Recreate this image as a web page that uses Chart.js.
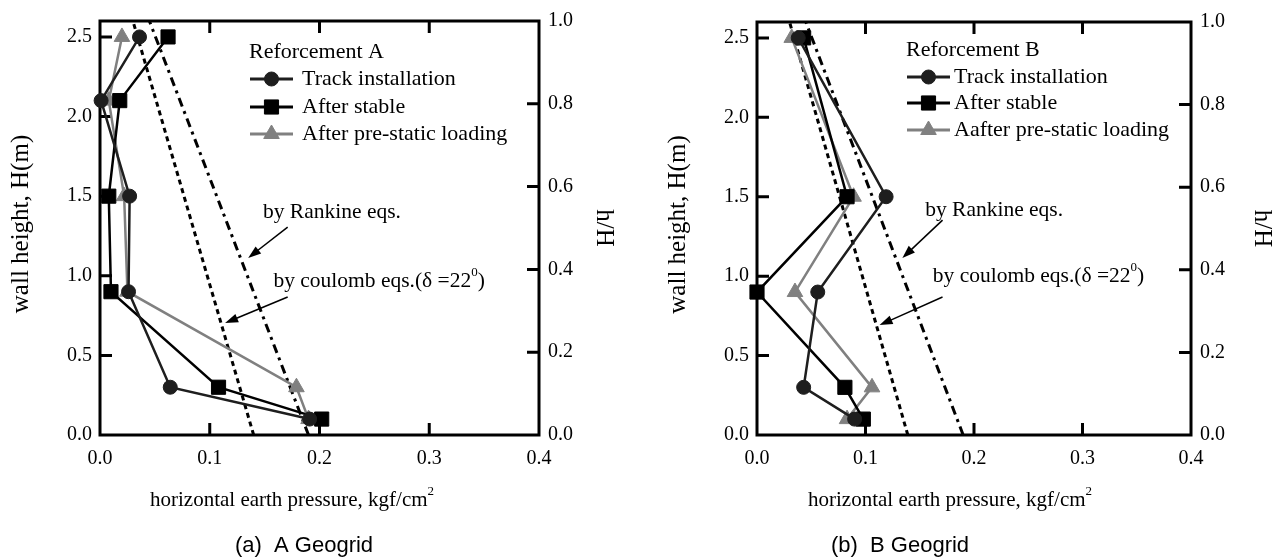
<!DOCTYPE html>
<html>
<head>
<meta charset="utf-8">
<script src="https://cdn.jsdelivr.net/npm/chart.js@4.4.0/dist/chart.umd.min.js"></script>
<style>
  html, body { margin: 0; padding: 0; background: #fff; }
  #wrap { position: relative; width: 1276px; height: 559px; }
  .box { position: absolute; top: 0; width: 638px; height: 559px; }
</style>
</head>
<body>
<div id="wrap">
  <div class="box" style="left:0"><canvas id="chartA" width="638" height="559"></canvas></div>
  <div class="box" style="left:638px"><canvas id="chartB" width="638" height="559"></canvas></div>
</div>
<script>
// measured heights (m) and pressures (kgf/cm2)
const heightsA = [2.5, 2.1, 1.5, 0.9, 0.3, 0.1];
const trackA = [0.036, 0.001, 0.027, 0.026, 0.064, 0.191];
const stableA = [0.062, 0.018, 0.008, 0.010, 0.108, 0.202];
const preStaticA = [0.020, 0.008, 0.022, 0.025, 0.179, 0.190];

const heightsB = [2.5, 1.5, 0.9, 0.3, 0.1];
const trackB = [0.038, 0.119, 0.056, 0.043, 0.090];
const stableB = [0.043, 0.083, 0.000, 0.081, 0.098];
const preStaticB = [0.032, 0.089, 0.035, 0.106, 0.083];

// theory lines, from wall bottom to wall top
const theoryH = [0, 2.6];
const rankineA = [0.190, 0.045];
const coulombA = [0.140, 0.030];
const rankineB = [0.190, 0.045];
const coulombB = [0.139, 0.030];

const xTicks = [0, 0.1, 0.2, 0.3, 0.4];
const yTicks = [0, 0.5, 1.0, 1.5, 2.0, 2.5];
const hTicks = [0, 0.2, 0.4, 0.6, 0.8, 1.0];

const SERIF = "'Liberation Serif', 'Times New Roman', serif";
const SANS = "'Liberation Sans', Arial, sans-serif";

function pts(xs, ys) {
  return ys.map((y, i) => ({ x: xs[i], y: y }));
}

// frame + inward tick marks
const framePlugin = {
  id: 'frame',
  beforeDatasetsDraw(chart) {
    const { ctx, chartArea: a, scales } = chart;
    const tl = 12;
    ctx.save();
    ctx.strokeStyle = '#000';
    ctx.lineWidth = 3;
    ctx.strokeRect(a.left, a.top, a.right - a.left, a.bottom - a.top);
    ctx.beginPath();
    xTicks.slice(1, -1).forEach(v => {
      const px = scales.x.getPixelForValue(v);
      ctx.moveTo(px, a.bottom); ctx.lineTo(px, a.bottom - tl);
      ctx.moveTo(px, a.top); ctx.lineTo(px, a.top + tl);
    });
    yTicks.slice(1).forEach(v => {
      const py = scales.y.getPixelForValue(v);
      ctx.moveTo(a.left, py); ctx.lineTo(a.left + tl, py);
    });
    hTicks.slice(1, -1).forEach(v => {
      const py = scales.y2.getPixelForValue(v);
      ctx.moveTo(a.right, py); ctx.lineTo(a.right - tl, py);
    });
    ctx.stroke();
    ctx.restore();
  }
};

// text with a superscript part: parts = [[text, isSup], ...]
function drawParts(ctx, parts, x, y, size) {
  let cx = x;
  parts.forEach(([t, sup]) => {
    ctx.font = (sup ? Math.round(size * 0.62) : size) + 'px ' + SERIF;
    ctx.fillText(t, cx, sup ? y - size * 0.38 : y);
    cx += ctx.measureText(t).width;
  });
  return cx;
}

function arrow(ctx, x1, y1, x2, y2) {
  const ang = Math.atan2(y2 - y1, x2 - x1);
  const len = 13, hw = 4.5;
  ctx.beginPath();
  ctx.moveTo(x1, y1);
  ctx.lineTo(x2 - Math.cos(ang) * len * 0.8, y2 - Math.sin(ang) * len * 0.8);
  ctx.stroke();
  ctx.beginPath();
  ctx.moveTo(x2, y2);
  ctx.lineTo(x2 - Math.cos(ang) * len - Math.sin(ang) * hw, y2 - Math.sin(ang) * len + Math.cos(ang) * hw);
  ctx.lineTo(x2 - Math.cos(ang) * len + Math.sin(ang) * hw, y2 - Math.sin(ang) * len - Math.cos(ang) * hw);
  ctx.closePath();
  ctx.fill();
}

// legend, labels, arrows, axis titles, caption
const notesPlugin = {
  id: 'notes',
  afterDatasetsDraw(chart, args, o) {
    const { ctx, chartArea: a, scales } = chart;
    const X = v => scales.x.getPixelForValue(v);
    const Y = v => scales.y.getPixelForValue(v);
    ctx.save();
    ctx.fillStyle = '#000';
    ctx.textBaseline = 'middle';
    ctx.textAlign = 'left';

    // legend
    const lg = o.legend;
    ctx.font = '22px ' + SERIF;
    ctx.fillText(lg.title, lg.x, lg.titleY);
    chart.data.datasets.slice(0, 3).forEach((ds, i) => {
      const y = lg.rows[i];
      ctx.strokeStyle = ds.borderColor;
      ctx.fillStyle = ds.borderColor;
      ctx.lineWidth = 3;
      ctx.beginPath();
      ctx.moveTo(lg.line[0], y); ctx.lineTo(lg.line[1], y);
      ctx.stroke();
      ctx.lineWidth = 1;
      Chart.helpers.drawPoint(ctx, { pointStyle: ds.pointStyle, radius: ds.pointRadius, rotation: 0, borderWidth: 1 }, (lg.line[0] + lg.line[1]) / 2, y);
      ctx.fillStyle = '#000';
      ctx.font = '22px ' + SERIF;
      ctx.fillText(ds.label, lg.textX, y);
    });

    // theory labels and arrows
    ctx.fillStyle = '#000';
    ctx.strokeStyle = '#000';
    ctx.lineWidth = 1.5;
    ctx.font = '21.5px ' + SERIF;
    ctx.fillText('by Rankine eqs.', X(o.rankine.at[0]), Y(o.rankine.at[1]));
    drawParts(ctx, [['by coulomb eqs.(\u03b4 =22', false], ['0', true], [')', false]], X(o.coulomb.at[0]), Y(o.coulomb.at[1]), 21.5);
    [o.rankine.arrow, o.coulomb.arrow].forEach(ar => {
      arrow(ctx, X(ar[0][0]), Y(ar[0][1]), X(ar[1][0]), Y(ar[1][1]));
    });

    // axis titles
    const midY = (a.top + a.bottom) / 2;
    ctx.font = '25px ' + SERIF;
    ctx.textAlign = 'center';
    ctx.save();
    ctx.translate(o.yTitleX, midY - 4);
    ctx.rotate(-Math.PI / 2);
    ctx.fillText('wall height, H(m)', 0, 0);
    ctx.restore();
    ctx.save();
    ctx.translate(o.hTitleX, midY);
    ctx.rotate(Math.PI / 2);
    ctx.fillText('h/H', 0, 0);
    ctx.restore();

    ctx.textAlign = 'left';
    drawParts(ctx, [['horizontal earth pressure, kgf/cm', false], ['2', true]], o.xTitleX, o.xTitleY, 21);

    ctx.textAlign = 'center';
    ctx.font = '22px ' + SANS;
    ctx.fillText(o.caption, o.captionX, o.captionY);
    ctx.restore();
  }
};

function makeChart(id, hs, track, stable, pre, rankine, coulomb, box, notes) {
  const font = { family: SERIF, size: 20 };
  return new Chart(document.getElementById(id), {
    type: 'line',
    data: {
      datasets: [
        { label: 'Track installation', data: pts(track, hs), borderColor: '#1e1e1e', backgroundColor: '#1e1e1e',
          pointStyle: 'circle', pointRadius: 7, borderWidth: 2.5 },
        { label: 'After stable', data: pts(stable, hs), borderColor: '#000', backgroundColor: '#000',
          pointStyle: 'rect', pointRadius: 10, borderWidth: 2.5 },
        { label: notes.preLabel, data: pts(pre, hs), borderColor: '#808080', backgroundColor: '#808080',
          pointStyle: 'triangle', pointRadius: 9, borderWidth: 2.5 },
        { label: 'Rankine', data: pts(rankine, theoryH), borderColor: '#000', borderWidth: 3,
          borderDash: [9, 5, 3, 5], pointRadius: 0 },
        { label: 'Coulomb', data: pts(coulomb, theoryH), borderColor: '#000', borderWidth: 3,
          borderDash: [5, 4], pointRadius: 0 }
      ].map(ds => Object.assign({ xAxisID: 'x', yAxisID: 'y', tension: 0, clip: false, fill: false,
        pointBorderWidth: 1, pointBackgroundColor: ds.borderColor, pointBorderColor: ds.borderColor }, ds))
    },
    options: {
      responsive: false,
      animation: false,
      layout: { padding: 0 },
      plugins: { legend: { display: false }, tooltip: { enabled: false }, notes: notes },
      scales: {
        x: {
          type: 'linear', position: 'bottom', min: 0, max: 0.4,
          afterBuildTicks: s => { s.ticks = xTicks.map(v => ({ value: v })); },
          afterFit: s => { s.height = box.bottom; },
          grid: { display: false, drawTicks: false }, border: { display: false },
          ticks: { font: font, color: '#000', padding: 12, maxRotation: 0, callback: v => v.toFixed(1) }
        },
        xTop: {
          type: 'linear', position: 'top', min: 0, max: 0.4,
          afterFit: s => { s.height = box.top; },
          grid: { display: false, drawTicks: false }, border: { display: false },
          ticks: { display: false }
        },
        y: {
          type: 'linear', position: 'left', min: 0, max: 2.6,
          afterBuildTicks: s => { s.ticks = yTicks.map(v => ({ value: v })); },
          afterFit: s => { s.width = box.left; },
          grid: { display: false, drawTicks: false }, border: { display: false },
          ticks: { font: font, color: '#000', padding: 8, callback: v => v.toFixed(1) }
        },
        y2: {
          type: 'linear', position: 'right', min: 0, max: 1,
          afterBuildTicks: s => { s.ticks = hTicks.map(v => ({ value: v })); },
          afterFit: s => { s.width = box.right; },
          grid: { display: false, drawTicks: false }, border: { display: false },
          ticks: { font: font, color: '#000', padding: 9, callback: v => v.toFixed(1) }
        }
      }
    },
    plugins: [framePlugin, notesPlugin]
  });
}

makeChart('chartA', heightsA, trackA, stableA, preStaticA, rankineA, coulombA,
  { left: 100, right: 99, top: 21, bottom: 124 },
  {
    preLabel: 'After pre-static loading',
    legend: { title: 'Reforcement A', x: 249, titleY: 52, rows: [79, 107, 134], line: [250, 293], textX: 302 },
    rankine: { at: [0.1485, 1.40], arrow: [[0.171, 1.306], [0.135, 1.112]] },
    coulomb: { at: [0.158, 0.967], arrow: [[0.171, 0.867], [0.114, 0.703]] },
    yTitleX: 21, hTitleX: 604, xTitleX: 150, xTitleY: 500,
    caption: '(a)  A Geogrid', captionX: 304, captionY: 546
  });

makeChart('chartB', heightsB, trackB, stableB, preStaticB, rankineB, coulombB,
  { left: 119, right: 85, top: 22, bottom: 124 },
  {
    preLabel: 'Aafter pre-static loading',
    legend: { title: 'Reforcement B', x: 268, titleY: 50, rows: [77, 103, 130], line: [269, 312], textX: 316 },
    rankine: { at: [0.155, 1.416], arrow: [[0.171, 1.353], [0.134, 1.114]] },
    coulomb: { at: [0.162, 1.0], arrow: [[0.171, 0.869], [0.113, 0.692]] },
    yTitleX: 40, hTitleX: 624, xTitleX: 170, xTitleY: 500,
    caption: '(b)  B Geogrid', captionX: 262, captionY: 546
  });
</script>
</body>
</html>
